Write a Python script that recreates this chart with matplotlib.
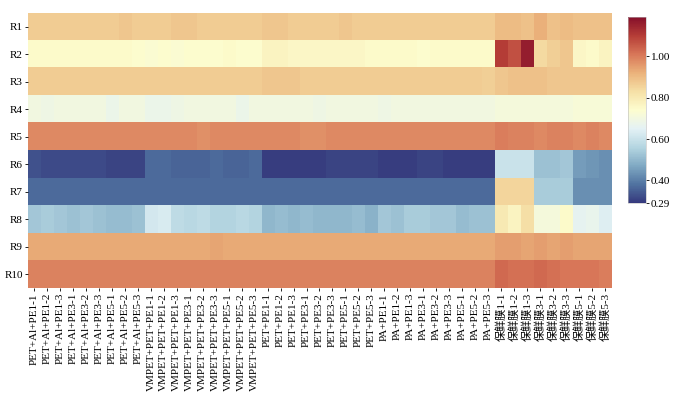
import numpy as np
import matplotlib
matplotlib.use("Agg")
from matplotlib import pyplot as plt
from matplotlib.colors import ListedColormap

plt.rcParams['font.family'] = ['Liberation Serif', 'Noto Sans CJK SC']

# row and column labels
rows = ['R1', 'R2', 'R3', 'R4', 'R5', 'R6', 'R7', 'R8', 'R9', 'R10']
groups = ['PET+Al+PE', 'VMPET+PET+PE', 'PET+PE', 'PA+PE', '保鲜膜']
subs = ['1-1', '1-2', '1-3', '3-1', '3-2', '3-3', '5-1', '5-2', '5-3']
cols = [g + s for g in groups for s in subs]

# values, 9 per group
R1 = [0.87, 0.87, 0.87, 0.87, 0.87, 0.87, 0.87, 0.88, 0.87,
      0.87, 0.87, 0.88, 0.88, 0.87, 0.87, 0.87, 0.87, 0.87,
      0.88, 0.88, 0.87, 0.87, 0.87, 0.87, 0.88, 0.87, 0.87,
      0.87, 0.87, 0.87, 0.87, 0.87, 0.87, 0.87, 0.87, 0.87,
      0.90, 0.90, 0.89, 0.92, 0.89, 0.90, 0.89, 0.89, 0.89]
R2 = [0.75, 0.75, 0.75, 0.75, 0.75, 0.75, 0.75, 0.75, 0.74,
      0.73, 0.74, 0.73, 0.74, 0.74, 0.74, 0.75, 0.74, 0.74,
      0.77, 0.77, 0.76, 0.76, 0.76, 0.76, 0.76, 0.76, 0.75,
      0.75, 0.75, 0.75, 0.74, 0.75, 0.75, 0.75, 0.75, 0.75,
      1.10, 1.07, 1.16, 0.84, 0.86, 0.88, 0.76, 0.75, 0.77]
R3 = [0.87, 0.87, 0.87, 0.87, 0.87, 0.87, 0.87, 0.87, 0.87,
      0.87, 0.87, 0.87, 0.87, 0.87, 0.87, 0.87, 0.87, 0.87,
      0.88, 0.88, 0.88, 0.87, 0.87, 0.87, 0.87, 0.87, 0.87,
      0.87, 0.87, 0.87, 0.87, 0.87, 0.87, 0.87, 0.87, 0.86,
      0.88, 0.89, 0.89, 0.89, 0.88, 0.88, 0.88, 0.88, 0.88]
R4 = [0.70, 0.69, 0.70, 0.70, 0.70, 0.70, 0.68, 0.70, 0.70,
      0.68, 0.68, 0.69, 0.70, 0.70, 0.70, 0.70, 0.68, 0.70,
      0.70, 0.70, 0.70, 0.70, 0.69, 0.70, 0.70, 0.70, 0.70,
      0.69, 0.70, 0.70, 0.70, 0.70, 0.70, 0.70, 0.70, 0.70,
      0.71, 0.71, 0.71, 0.71, 0.71, 0.71, 0.72, 0.72, 0.72]
R5 = [0.98, 0.98, 0.98, 0.98, 0.98, 0.98, 0.98, 0.98, 0.98,
      0.98, 0.98, 0.98, 0.98, 0.97, 0.98, 0.98, 0.98, 0.98,
      0.98, 0.98, 0.98, 0.97, 0.97, 0.98, 0.98, 0.98, 0.98,
      0.98, 0.98, 0.98, 0.98, 0.98, 0.98, 0.98, 0.98, 0.98,
      1.00, 0.99, 0.99, 0.98, 0.99, 0.99, 0.98, 0.99, 0.98]
R6 = [0.33, 0.32, 0.32, 0.32, 0.32, 0.32, 0.31, 0.31, 0.31,
      0.37, 0.37, 0.36, 0.36, 0.36, 0.37, 0.36, 0.36, 0.37,
      0.30, 0.30, 0.30, 0.30, 0.30, 0.31, 0.31, 0.31, 0.31,
      0.30, 0.30, 0.30, 0.31, 0.31, 0.30, 0.30, 0.30, 0.30,
      0.60, 0.60, 0.60, 0.52, 0.52, 0.53, 0.45, 0.44, 0.43]
R7 = [0.37, 0.37, 0.37, 0.37, 0.37, 0.37, 0.37, 0.37, 0.37,
      0.37, 0.37, 0.37, 0.37, 0.37, 0.37, 0.37, 0.37, 0.37,
      0.37, 0.37, 0.37, 0.37, 0.37, 0.37, 0.37, 0.37, 0.37,
      0.37, 0.37, 0.37, 0.37, 0.37, 0.37, 0.37, 0.37, 0.37,
      0.85, 0.85, 0.85, 0.54, 0.54, 0.54, 0.43, 0.43, 0.43]
R8 = [0.53, 0.54, 0.53, 0.52, 0.53, 0.52, 0.51, 0.51, 0.52,
      0.62, 0.63, 0.58, 0.57, 0.58, 0.56, 0.56, 0.57, 0.56,
      0.50, 0.51, 0.50, 0.51, 0.50, 0.50, 0.50, 0.51, 0.49,
      0.53, 0.52, 0.54, 0.54, 0.53, 0.53, 0.51, 0.52, 0.52,
      0.80, 0.77, 0.83, 0.71, 0.71, 0.75, 0.66, 0.67, 0.64]
R9 = [0.93, 0.93, 0.93, 0.93, 0.93, 0.93, 0.93, 0.93, 0.93,
      0.93, 0.93, 0.93, 0.93, 0.93, 0.94, 0.93, 0.93, 0.93,
      0.93, 0.93, 0.93, 0.93, 0.93, 0.93, 0.93, 0.93, 0.93,
      0.93, 0.93, 0.93, 0.93, 0.93, 0.93, 0.93, 0.93, 0.93,
      0.95, 0.95, 0.94, 0.95, 0.94, 0.95, 0.94, 0.94, 0.94]
R10 = [0.99, 0.99, 0.99, 0.99, 0.99, 0.99, 0.99, 0.99, 0.99,
       0.99, 0.99, 0.99, 0.99, 0.99, 0.99, 0.99, 0.99, 0.99,
       0.99, 0.99, 0.99, 0.99, 0.99, 0.99, 0.99, 0.99, 0.99,
       0.99, 0.99, 0.99, 0.99, 0.99, 0.99, 0.99, 0.99, 0.99,
       1.03, 1.02, 1.02, 1.03, 1.02, 1.01, 1.01, 1.01, 1.00]

data = np.array([R1, R2, R3, R4, R5, R6, R7, R8, R9, R10])

# the printed figure looks a bit faded, so wash out RdYlBu_r a little
base = plt.get_cmap('RdYlBu_r')(np.linspace(0, 1, 256))
gray = base[:, :3] @ np.array([0.299, 0.587, 0.114])
base[:, :3] = 0.72 * base[:, :3] + 0.28 * gray[:, None]
cmap = ListedColormap(base)

fig = plt.figure(figsize=(6.93, 4.07), dpi=100)
ax = fig.add_axes([0.040, 0.292, 0.842, 0.676])
cax = fig.add_axes([0.906, 0.501, 0.026, 0.457])

im = ax.imshow(data, cmap=cmap, vmin=0.29, vmax=1.19, aspect='auto',
               interpolation='nearest')

ax.set_xticks(range(len(cols)))
ax.set_xticklabels(cols, rotation=90, fontsize=8)
ax.set_yticks(range(len(rows)))
ax.set_yticklabels(rows, fontsize=8)
ax.tick_params(axis='both', length=2, width=0.6, pad=1.5)
for s in ax.spines.values():
    s.set_visible(False)

cb = fig.colorbar(im, cax=cax)
cb.set_ticks([0.29, 0.40, 0.60, 0.80, 1.00])
cb.set_ticklabels(['0.29', '0.40', '0.60', '0.80', '1.00'])
cb.ax.tick_params(labelsize=8, length=2, width=0.6, pad=1.5)
cb.outline.set_linewidth(0.4)
cb.outline.set_edgecolor('#bbbbbb')

fig.savefig('out.png', dpi=100)
